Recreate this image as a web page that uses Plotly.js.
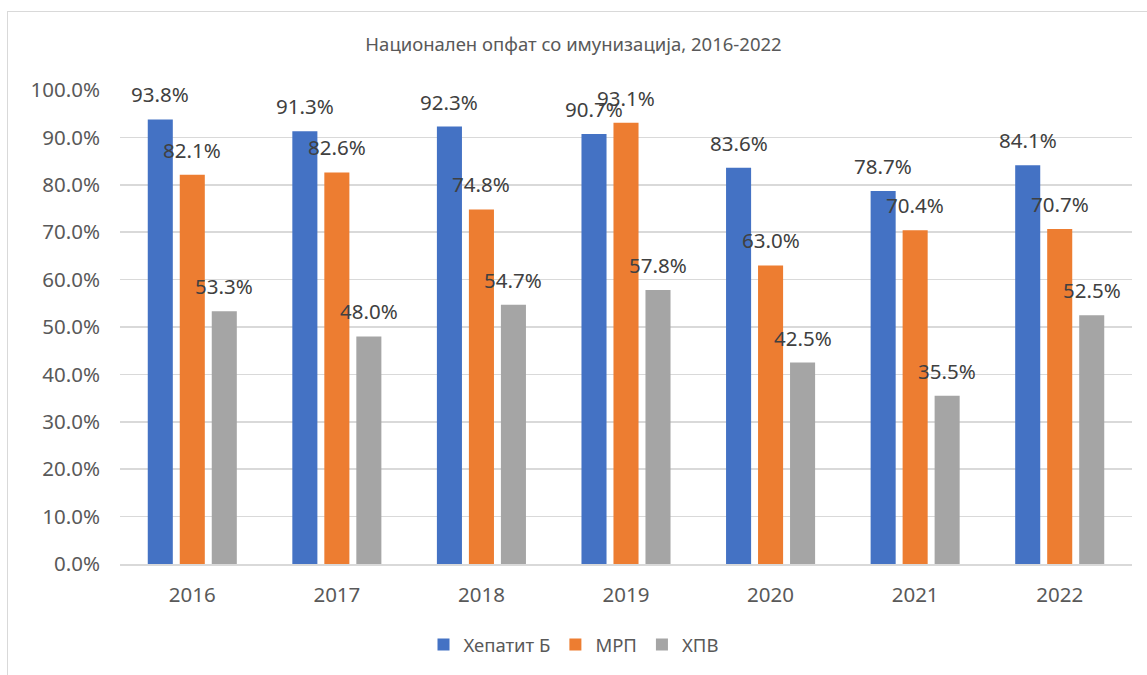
<!DOCTYPE html>
<html>
<head>
<meta charset="utf-8">
<script src="https://cdn.plot.ly/plotly-3.0.1.min.js"></script>
<style>
html,body{margin:0;padding:0;background:#fff;}
#chart{width:1147px;height:675px;position:absolute;left:0;top:0;}
#frame{position:absolute;left:7px;top:11px;width:1160px;height:700px;border:1px solid #d9d9d9;pointer-events:none;}
</style>
</head>
<body>
<div id="chart"></div>
<div id="frame"></div>
<script>
const years = ['2016','2017','2018','2019','2020','2021','2022'];
const seriesNames = ['Хепатит Б','МРП','ХПВ'];
const hepB = [93.8, 91.3, 92.3, 90.7, 83.6, 78.7, 84.1];
const mrp  = [82.1, 82.6, 74.8, 93.1, 63.0, 70.4, 70.7];
const hpv  = [53.3, 48.0, 54.7, 57.8, 42.5, 35.5, 52.5];
const yTicks = [0,10,20,30,40,50,60,70,80,90,100];

const colors = ['#4472C4','#ED7D31','#A5A5A5'];
const allSeries = [hepB, mrp, hpv];
const bargap = 0.336, bargroupgap = 0.217;
const slot = (1 - bargap) / allSeries.length;
const FONT = 'Noto Sans, sans-serif';

const traces = allSeries.map((vals, k) => ({
  type: 'bar',
  name: seriesNames[k],
  x: years,
  y: vals.map(v => v / 100),
  marker: {color: colors[k]},
  hoverinfo: 'none'
}));

const annotations = [];
allSeries.forEach((vals, k) => {
  vals.forEach((v, i) => {
    annotations.push({
      x: i + (k - (allSeries.length - 1) / 2) * slot,
      y: v / 100,
      xref: 'x', yref: 'y',
      text: v.toFixed(1) + '%',
      showarrow: false,
      yanchor: 'middle',
      yshift: 25,
      font: {family: FONT, size: 20.5, color: '#404040'}
    });
  });
});

const layout = {
  width: 1147, height: 675,
  margin: {l: 120, r: 15, t: 90, b: 111},
  paper_bgcolor: '#fff', plot_bgcolor: '#fff',
  barmode: 'group', bargap: bargap, bargroupgap: bargroupgap,
  title: {
    text: 'Национален опфат со имунизација, 2016-2022',
    font: {family: FONT, size: 18.5, color: '#595959'},
    x: 0.5, xref: 'container', xanchor: 'center',
    y: 1 - 45 / 675, yref: 'container', yanchor: 'middle'
  },
  xaxis: {
    type: 'category',
    tickfont: {family: FONT, size: 20.5, color: '#595959'},
    showgrid: false, showline: true, linecolor: '#d9d9d9', linewidth: 1.5,
    ticks: '', ticklabelstandoff: 12, fixedrange: true
  },
  yaxis: {
    range: [0, 1],
    tickvals: yTicks.map(t => t / 100),
    ticktext: yTicks.map(t => t.toFixed(1) + '%'),
    tickfont: {family: FONT, size: 20.5, color: '#595959'},
    showgrid: true, gridcolor: '#d9d9d9', gridwidth: 1.5,
    zeroline: false, showline: false, ticks: '', ticklabelstandoff: 19,
    fixedrange: true
  },
  legend: {
    orientation: 'h', x: 0.5, xref: 'container', xanchor: 'center',
    y: 1 - 645 / 675, yref: 'container', yanchor: 'middle',
    font: {family: FONT, size: 18.5, color: '#595959'},
    itemwidth: 30,
    itemclick: false, itemdoubleclick: false
  },
  annotations: annotations,
  showlegend: true
};

Plotly.newPlot('chart', traces, layout, {displayModeBar: false, staticPlot: true});
</script>
</body>
</html>
